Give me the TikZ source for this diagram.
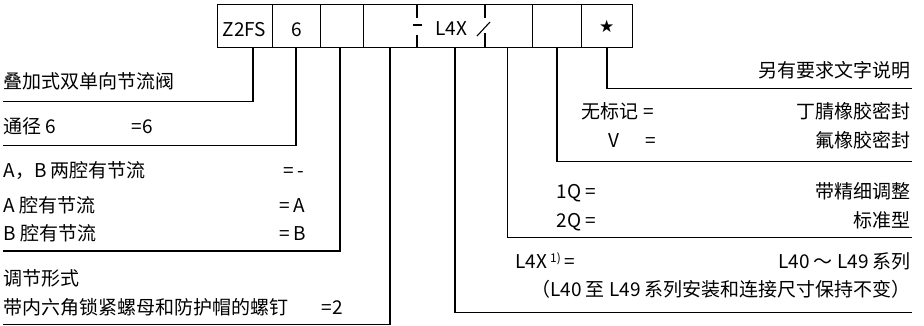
\documentclass[tikz,border=0pt]{standalone}
\usepackage{fontspec}
\setmainfont{Noto Sans CJK SC}
\newfontfamily\symfont{DejaVu Sans}
\begin{document}
\begin{tikzpicture}[x=1pt,y=-1pt,
  lbl/.style={inner sep=0pt, font=\fontsize{19}{21}\selectfont},
  cell/.style={draw, line width=1pt, minimum height=43.5pt, inner sep=0pt, anchor=north west},
  ln/.style={line width=1.1pt}]
\useasboundingbox (0,0) rectangle (924,326);
% code boxes
\node[cell, minimum width=55pt] (cz) at (217,4) {};
\node[cell, minimum width=48pt] (c6) at (272,4) {};
\node[cell, minimum width=43pt] (c3) at (320,4) {};
\node[cell, minimum width=169pt] (cl) at (363,4) {};
\node[cell, minimum width=49pt] (c5) at (532,4) {};
\node[cell, minimum width=51pt] (cs) at (581,4) {};
\node[lbl, anchor=base] (tz) at (244.5,36.5) {Z2FS};
\node[lbl, anchor=base] (t6) at (296.5,36.5) {6};
\node[lbl, anchor=base] (tl) at (451.5,36) {L4X};
\node[inner sep=0pt, font=\symfont\fontsize{17}{17}\selectfont] (ts) at (606.7,26) {★};
% partial dividers
\draw[ln] (417,4) -- (417,18) (417,35) -- (417,47.5);
\draw[ln] (412.7,25) -- (421.7,25);
\draw[ln] (485,4) -- (485,18) (485,33) -- (485,47.5);
\draw[ln] (477,36) -- (490,22);
% connectors
\foreach \n/\x/\y/\ex in {1/253/101.7/3, 2/296/145.7/3, 3/340/251/3, 4/390/324.3/3, 5/455/312.7/912, 6/507.5/237.3/912, 7/557/161.7/912, 8/607/88.3/912}{
  \coordinate (t\n) at (\x,47.5);
  \coordinate (e\n) at (\ex,\y);
  \draw[ln] (t\n) |- (e\n);
}
% left labels
\node[lbl, anchor=base west] (l1) at (3.5,89) {叠加式双单向节流阀};
\node[lbl, anchor=base west] (l2) at (3.5,134) {通径 6};
\node[lbl, anchor=base west] (l2v) at (131.7,134) {=6};
\node[lbl, anchor=base west] (l3) at (3.5,178) {A，B 两腔有节流};
\node[lbl, anchor=base west] (l3v) at (283,178) {= -};
\node[lbl, anchor=base west] (l4) at (3.5,212) {A 腔有节流};
\node[lbl, anchor=base west] (l4v) at (279,212) {= A};
\node[lbl, anchor=base west] (l5) at (3.5,240) {B 腔有节流};
\node[lbl, anchor=base west] (l5v) at (279,240) {= B};
\node[lbl, anchor=base west] (l6) at (3.5,285) {调节形式};
\node[lbl, anchor=base west] (l7) at (3.5,314) {带内六角锁紧螺母和防护帽的螺钉};
\node[lbl, anchor=base west] (l7v) at (321.7,314) {=2};
% right labels
\node[lbl, anchor=base east] (r1) at (911,77.7) {另有要求文字说明};
\node[lbl, anchor=base west] (r2k) at (581.7,119) {无标记 =};
\node[lbl, anchor=base east] (r2) at (911,119) {丁腈橡胶密封};
\node[lbl, anchor=base west] (r3k) at (608,148) {V};
\node[lbl, anchor=base west] (r3e) at (645,148) {=};
\node[lbl, anchor=base east] (r3) at (911,148) {氟橡胶密封};
\node[lbl, anchor=base west] (r4k) at (556.7,198.7) {1Q =};
\node[lbl, anchor=base east] (r4) at (911,198.7) {带精细调整};
\node[lbl, anchor=base west] (r5k) at (556.7,227) {2Q =};
\node[lbl, anchor=base east] (r5) at (911,227) {标准型};
\node[lbl, anchor=base west] (r6k) at (515,268.7) {L4X\,\raisebox{0.6ex}{\fontsize{12}{12}\selectfont 1)}\,=};
\node[lbl, anchor=base east] (r6) at (911,268.7) {L40 ～ L49 系列};
\node[lbl, anchor=base east] (r7) at (911,296) {（L40 至 L49 系列安装和连接尺寸保持不变）};
\end{tikzpicture}
\end{document}
